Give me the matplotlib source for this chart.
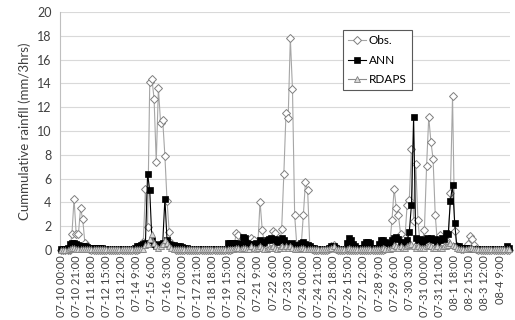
import matplotlib
matplotlib.use('Agg')
import matplotlib.pyplot as plt
import numpy as np

plt.rcParams['font.family'] = ['Lato', 'DejaVu Sans']

# valores de 3 em 3 horas, uma linha por dia (07-10 00:00 ... 08-4 21:00)
obs = [
    0, 0, 0, 0, 0, 1.3, 4.3, 1.3,
    1.3, 3.5, 2.6, 0.6, 0.35, 0.1, 0, 0,
    0, 0, 0, 0, 0, 0, 0, 0,
    0, 0, 0, 0, 0, 0, 0, 0,
    0, 0, 0, 0, 0.1, 0.3, 0.65, 5.1,
    1.9, 14.1, 14.4, 12.7, 7.4, 13.6, 10.7, 10.9,
    7.9, 4.1, 1.5, 0.6, 0.2, 0, 0, 0,
    0, 0, 0, 0, 0, 0, 0, 0,
    0, 0, 0, 0, 0, 0, 0, 0,
    0, 0, 0, 0, 0, 0, 0, 0.1,
    0.3, 1.45, 1.26, 0.5, 0.3, 0.2, 0.4, 0.6,
    1.0, 0.8, 0.3, 0.5, 4.06, 1.7, 0.5, 0.2,
    0.4, 0.7, 1.6, 1.4, 0.6, 0.3, 1.8, 6.4,
    11.5, 11.1, 17.8, 13.5, 2.9, 0.4, 0.2, 0.3,
    2.9, 5.7, 5.0, 0.3, 0.1, 0, 0, 0,
    0, 0, 0, 0, 0.1, 0.3, 0.4, 0.1,
    0, 0, 0, 0, 0, 0, 0, 0,
    0, 0, 0, 0, 0, 0, 0, 0,
    0, 0, 0, 0, 0, 0, 0.1, 0.2,
    0.5, 2.5, 5.15, 3.5, 2.9, 1.3, 0.5, 1.0,
    3.8, 4.2, 8.5, 2.4, 7.2, 2.5, 0.5, 0.6,
    1.7, 7.06, 11.15, 9.1, 7.65, 2.94, 0.6, 1.26,
    0.4, 0.5, 0.8, 0.5, 4.8, 12.9, 1.6, 0.3,
    0.2, 0.1, 0.1, 0.2, 0.5, 1.2, 0.9, 0.4,
    0.1, 0, 0, 0, 0, 0, 0, 0,
    0, 0, 0, 0, 0, 0, 0, 0,
]

ann = [
    0.1, 0.1, 0.1, 0.2, 0.5, 0.6, 0.6, 0.5,
    0.4, 0.35, 0.3, 0.3, 0.25, 0.2, 0.2, 0.2,
    0.15, 0.2, 0.2, 0.15, 0.1, 0.1, 0.1, 0.1,
    0.1, 0.1, 0.1, 0.1, 0.1, 0.1, 0.1, 0.1,
    0.1, 0.1, 0.2, 0.3, 0.35, 0.4, 0.5, 0.6,
    6.4, 5.0, 0.8, 0.5, 0.3, 0.4, 0.5, 0.6,
    4.3, 0.8, 0.5, 0.4, 0.4, 0.35, 0.3, 0.3,
    0.25, 0.2, 0.15, 0.1, 0.1, 0.1, 0.1, 0.1,
    0.1, 0.1, 0.1, 0.1, 0.1, 0.1, 0.1, 0.1,
    0.1, 0.1, 0.1, 0.1, 0.1, 0.6, 0.6, 0.6,
    0.6, 0.6, 0.5, 0.5, 1.1, 1.0, 0.6, 0.5,
    0.4, 0.5, 0.6, 0.5, 0.8, 0.6, 0.7, 0.8,
    0.9, 1.0, 0.8, 0.9, 0.7, 0.8, 1.0, 0.8,
    0.6, 0.4, 0.5, 0.6, 0.4, 0.3, 0.4, 0.6,
    0.7, 0.5, 0.4, 0.3, 0.2, 0.15, 0.1, 0.1,
    0.1, 0.1, 0.1, 0.1, 0.2, 0.3, 0.3, 0.2,
    0.1, 0.1, 0.1, 0.1, 0.6, 1.0, 0.8, 0.5,
    0.3, 0.2, 0.2, 0.2, 0.5, 0.7, 0.7, 0.6,
    0.2, 0.2, 0.2, 0.5, 0.8, 0.8, 0.7, 0.6,
    0.4, 0.8, 1.0, 1.07, 0.9, 0.7, 0.5, 0.6,
    0.8, 1.5, 3.8, 11.15, 1.0, 0.8, 0.9, 0.7,
    0.8, 1.0, 0.9, 1.0, 0.8, 0.9, 0.7, 0.8,
    1.0, 0.9, 1.4, 1.3, 4.1, 5.46, 2.24, 0.3,
    0.3, 0.2, 0.2, 0.15, 0.15, 0.1, 0.1, 0.1,
    0.1, 0.1, 0.1, 0.1, 0.1, 0.1, 0.1, 0.1,
    0.1, 0.1, 0.1, 0.1, 0.1, 0.1, 0.3, 0.2,
]

rdaps = [
    0, 0, 0, 0, 0.1, 0.2, 0.2, 0.1,
    0.1, 0.1, 0.1, 0.05, 0.05, 0.05, 0.05, 0.05,
    0.05, 0.05, 0.05, 0.05, 0.05, 0.05, 0.05, 0.05,
    0.05, 0.05, 0.05, 0.05, 0.05, 0.05, 0.05, 0.05,
    0.05, 0.05, 0.05, 0.05, 0.05, 0.1, 0.1, 0.4,
    0.5, 0.9, 1.3, 0.6, 0.3, 0.2, 0.3, 0.5,
    0.8, 0.6, 0.3, 0.2, 0.1, 0.05, 0.05, 0.05,
    0.05, 0.05, 0.05, 0.05, 0.05, 0.05, 0.05, 0.05,
    0.05, 0.05, 0.05, 0.05, 0.05, 0.05, 0.05, 0.05,
    0.05, 0.05, 0.05, 0.05, 0.05, 0.1, 0.1, 0.1,
    0.1, 0.2, 0.2, 0.1, 0.15, 0.2, 0.1, 0.1,
    0.3, 0.2, 0.1, 0.2, 0.3, 0.2, 0.1, 0.1,
    0.2, 0.2, 0.3, 0.2, 0.1, 0.2, 0.3, 0.2,
    0.3, 0.2, 0.3, 0.2, 0.1, 0.1, 0.1, 0.2,
    0.2, 0.1, 0.1, 0.05, 0.05, 0.05, 0.05, 0.05,
    0.05, 0.05, 0.05, 0.05, 0.1, 0.2, 0.3, 0.1,
    0.05, 0.05, 0.05, 0.05, 0.1, 0.2, 0.1, 0.05,
    0.05, 0.05, 0.05, 0.05, 0.1, 0.1, 0.1, 0.05,
    0.05, 0.05, 0.05, 0.1, 0.1, 0.2, 0.1, 0.1,
    0.1, 0.2, 0.4, 0.3, 0.2, 0.3, 0.2, 0.2,
    0.3, 0.4, 0.5, 0.3, 0.2, 0.3, 0.2, 0.2,
    0.2, 0.3, 0.4, 0.3, 0.2, 0.2, 0.3, 0.2,
    0.2, 0.3, 0.3, 0.4, 0.6, 0.4, 0.3, 0.2,
    0.1, 0.1, 0.1, 0.1, 0.1, 0.2, 0.2, 0.1,
    0.05, 0.05, 0.05, 0.05, 0.05, 0.05, 0.05, 0.05,
    0.05, 0.05, 0.05, 0.05, 0.05, 0.05, 0.05, 0.05,
]

rotulos = [
    '07-10 00:00', '07-10 21:00', '07-11 18:00', '07-12 15:00', '07-13 12:00',
    '07-14 9:00', '07-15 6:00', '07-16 3:00', '07-17 00:00', '07-17 21:00',
    '07-18 18:00', '07-19 15:00', '07-20 12:00', '07-21 9:00', '07-22 6:00',
    '07-23 3:00', '07-24 00:00', '07-24 21:00', '07-25 18:00', '07-26 15:00',
    '07-27 12:00', '07-28 9:00', '07-29 6:00', '07-30 3:00', '07-31 00:00',
    '07-31 21:00', '08-1 18:00', '08-2 15:00', '08-3 12:00', '08-4 9:00',
]

x = np.arange(len(obs))

fig = plt.figure(figsize=(5.15, 3.2), dpi=100)
ax = fig.add_axes([0.1165, 0.219, 0.8735, 0.7435])

ax.plot(x, obs, color='#a6a6a6', linewidth=0.8, marker='D', markersize=4,
        markerfacecolor='white', markeredgecolor='#7f7f7f', markeredgewidth=0.7,
        label='Obs.', clip_on=False, zorder=3)
ax.plot(x, ann, color='#000000', linewidth=0.8, marker='s', markersize=4,
        markerfacecolor='black', markeredgecolor='black', markeredgewidth=0.5,
        label='ANN', clip_on=False, zorder=4)
ax.plot(x, rdaps, color='#8c8c8c', linewidth=0.8, marker='^', markersize=4,
        markerfacecolor='#d9d9d9', markeredgecolor='#7f7f7f', markeredgewidth=0.6,
        label='RDAPS', clip_on=False, zorder=5)

ax.set_xlim(-0.5, len(obs) - 0.5)
ax.set_ylim(0, 20)
ax.set_yticks(range(0, 21, 2))
ax.set_xticks(range(0, len(obs), 7))
ax.set_xticklabels(rotulos, rotation=90, fontsize=8, color='#404040')
ax.tick_params(axis='y', labelsize=9, colors='#404040', length=0, pad=6)
ax.tick_params(axis='x', length=0, pad=4)
ax.set_ylabel('Cummulative rainfll (mm/3hrs)', fontsize=9.5, color='#404040', labelpad=4)

ax.grid(True, axis='y', color='#d9d9d9', linewidth=0.8)
ax.set_axisbelow(True)
for lado in ['top', 'right', 'bottom']:
    ax.spines[lado].set_visible(False)
ax.spines['left'].set_color('#bfbfbf')

leg = ax.legend(loc='upper left', bbox_to_anchor=(0.629, 0.924), fontsize=8.5,
                frameon=True, fancybox=False, edgecolor='#595959', framealpha=1,
                borderaxespad=0, handlelength=1.5, borderpad=0.45,
                labelspacing=0.7, handletextpad=0.25)
leg.get_frame().set_linewidth(0.8)

plt.savefig('out.png', dpi=100)
